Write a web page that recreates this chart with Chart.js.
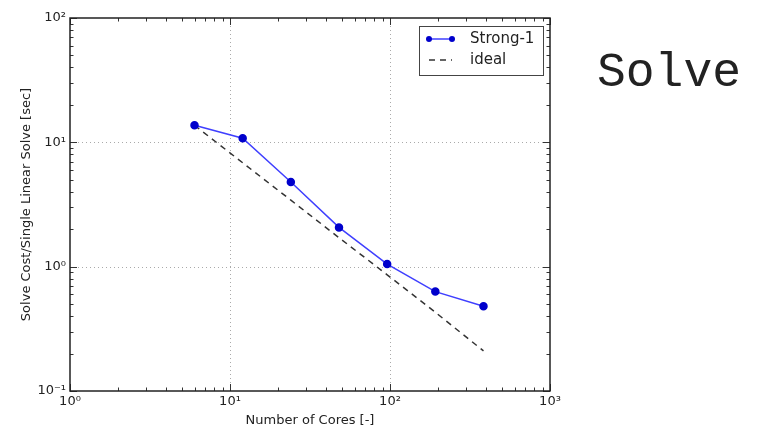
<!DOCTYPE html>
<html>
<head>
<meta charset="utf-8">
<script src="https://cdn.jsdelivr.net/npm/chart.js@4"></script>
<style>
  html, body { margin: 0; padding: 0; background: #fff; }
  #wrap { position: relative; width: 761px; height: 430px; }
</style>
</head>
<body>
<div id="wrap"><canvas id="grafico" width="761" height="430"></canvas></div>
<script>
// dados do gráfico
const cores = [6, 12, 24, 48, 96, 192, 384];
const strong1 = [13.7, 10.8, 4.8, 2.07, 1.05, 0.63, 0.48];
const ideal = [13.7, 6.85, 3.43, 1.71, 0.86, 0.43, 0.21];

const xMajor = [1, 10, 100, 1000];
const xTickLabels = ['10⁰', '10¹', '10²', '10³'];
const yMajor = [0.1, 1, 10, 100];
const yTickLabels = ['10⁻¹', '10⁰', '10¹', '10²'];

const fonte = "'DejaVu Sans', sans-serif";

// gera ticks maiores e menores (2..9) para a escala log
function ticksLog(maiores) {
  const lista = [];
  for (let i = 0; i < maiores.length; i++) {
    lista.push({ value: maiores[i], major: true });
    if (i < maiores.length - 1) {
      for (let k = 2; k <= 9; k++) lista.push({ value: maiores[i] * k, major: false });
    }
  }
  return lista;
}

// moldura, grade pontilhada e ticks internos no estilo matplotlib
const molduraPlugin = {
  id: 'moldura',
  beforeDatasetsDraw(chart) {
    const { ctx, chartArea: a, scales } = chart;
    ctx.save();
    ctx.strokeStyle = '#aaa';
    ctx.lineWidth = 1;
    ctx.setLineDash([1, 3]);
    xMajor.slice(1, -1).forEach(v => {
      const px = Math.round(scales.x.getPixelForValue(v)) + 0.5;
      ctx.beginPath(); ctx.moveTo(px, a.top); ctx.lineTo(px, a.bottom); ctx.stroke();
    });
    yMajor.slice(1, -1).forEach(v => {
      const py = Math.round(scales.y.getPixelForValue(v)) + 0.5;
      ctx.beginPath(); ctx.moveTo(a.left, py); ctx.lineTo(a.right, py); ctx.stroke();
    });
    ctx.restore();
  },
  afterDraw(chart) {
    const { ctx, chartArea: a, scales } = chart;
    ctx.save();
    ctx.strokeStyle = '#333';
    ctx.lineWidth = 1;
    scales.x.ticks.forEach(t => {
      const px = Math.round(scales.x.getPixelForValue(t.value)) + 0.5;
      const len = t.major ? 7 : 3.5;
      ctx.beginPath();
      ctx.moveTo(px, a.bottom); ctx.lineTo(px, a.bottom - len);
      ctx.moveTo(px, a.top); ctx.lineTo(px, a.top + len);
      ctx.stroke();
    });
    scales.y.ticks.forEach(t => {
      const py = Math.round(scales.y.getPixelForValue(t.value)) + 0.5;
      const len = t.major ? 7 : 3.5;
      ctx.beginPath();
      ctx.moveTo(a.left, py); ctx.lineTo(a.left + len, py);
      ctx.moveTo(a.right, py); ctx.lineTo(a.right - len, py);
      ctx.stroke();
    });
    ctx.lineWidth = 1.5;
    ctx.strokeStyle = '#222';
    ctx.strokeRect(a.left, a.top, a.right - a.left, a.bottom - a.top);

    // legenda dentro da área do gráfico
    const lx = a.right - 131, ly = a.top + 8, lw = 124, lh = 49;
    ctx.fillStyle = '#fff';
    ctx.fillRect(lx, ly, lw, lh);
    ctx.lineWidth = 1;
    ctx.strokeStyle = '#444';
    ctx.strokeRect(lx + 0.5, ly + 0.5, lw, lh);
    const itens = chart.data.datasets;
    itens.forEach((ds, i) => {
      const yy = ly + 13 + i * 21;
      ctx.save();
      ctx.strokeStyle = ds.borderColor;
      ctx.lineWidth = ds.borderWidth;
      ctx.setLineDash(ds.borderDash || []);
      ctx.beginPath(); ctx.moveTo(lx + 10, yy); ctx.lineTo(lx + 33, yy); ctx.stroke();
      if (ds.pointRadius > 0) {
        ctx.fillStyle = ds.pointBackgroundColor;
        [lx + 10, lx + 33].forEach(cx => {
          ctx.beginPath(); ctx.arc(cx, yy, ds.pointRadius - 0.5, 0, Math.PI * 2); ctx.fill();
        });
      }
      ctx.restore();
      ctx.fillStyle = '#222';
      ctx.font = '15px ' + fonte;
      ctx.textBaseline = 'middle';
      ctx.fillText(ds.label, lx + 51, yy);
    });

    // texto à direita
    ctx.fillStyle = '#222';
    ctx.font = "48px 'Liberation Mono', monospace";
    ctx.textBaseline = 'alphabetic';
    ctx.fillText('Solve', 597, 86);
    ctx.restore();
  }
};

const ctx = document.getElementById('grafico').getContext('2d');
const grafico = new Chart(ctx, {
  type: 'line',
  data: {
    datasets: [
      {
        label: 'Strong-1',
        data: cores.map((c, i) => ({ x: c, y: strong1[i] })),
        borderColor: '#3f3fff',
        borderWidth: 1.5,
        pointBackgroundColor: '#0000cc',
        pointBorderColor: '#0000cc',
        pointRadius: 3.5,
        pointHoverRadius: 3.5,
        tension: 0
      },
      {
        label: 'ideal',
        data: cores.map((c, i) => ({ x: c, y: ideal[i] })),
        borderColor: '#333',
        borderWidth: 1.5,
        borderDash: [6, 5],
        pointRadius: 0,
        tension: 0
      }
    ]
  },
  options: {
    responsive: false,
    animation: false,
    events: [],
    layout: { padding: { top: 18, right: 211, bottom: 0, left: 0 } },
    plugins: { legend: { display: false }, tooltip: { enabled: false } },
    scales: {
      x: {
        type: 'logarithmic',
        min: 1,
        max: 1000,
        afterBuildTicks: s => { s.ticks = ticksLog(xMajor); },
        afterFit: s => { s.height = 39; },
        grid: { display: false, drawTicks: false },
        border: { display: false },
        ticks: {
          autoSkip: false,
          maxRotation: 0,
          padding: 3,
          color: '#222',
          font: { family: fonte, size: 13 },
          callback: v => {
            const i = xMajor.indexOf(v);
            return i >= 0 ? xTickLabels[i] : '';
          }
        },
        title: {
          display: true,
          text: 'Number of Cores [-]',
          color: '#222',
          font: { family: fonte, size: 13 },
          padding: { top: 0, bottom: 2 }
        }
      },
      y: {
        type: 'logarithmic',
        min: 0.1,
        max: 100,
        afterBuildTicks: s => { s.ticks = ticksLog(yMajor); },
        afterFit: s => { s.width = 70; },
        grid: { display: false, drawTicks: false },
        border: { display: false },
        ticks: {
          autoSkip: false,
          padding: 4,
          color: '#222',
          font: { family: fonte, size: 13 },
          callback: v => {
            const i = yMajor.indexOf(v);
            return i >= 0 ? yTickLabels[i] : '';
          }
        },
        title: {
          display: true,
          text: 'Solve Cost/Single Linear Solve [sec]',
          color: '#222',
          font: { family: fonte, size: 13 },
          padding: { top: 19, bottom: 0 }
        }
      }
    }
  },
  plugins: [molduraPlugin]
});
</script>
</body>
</html>
